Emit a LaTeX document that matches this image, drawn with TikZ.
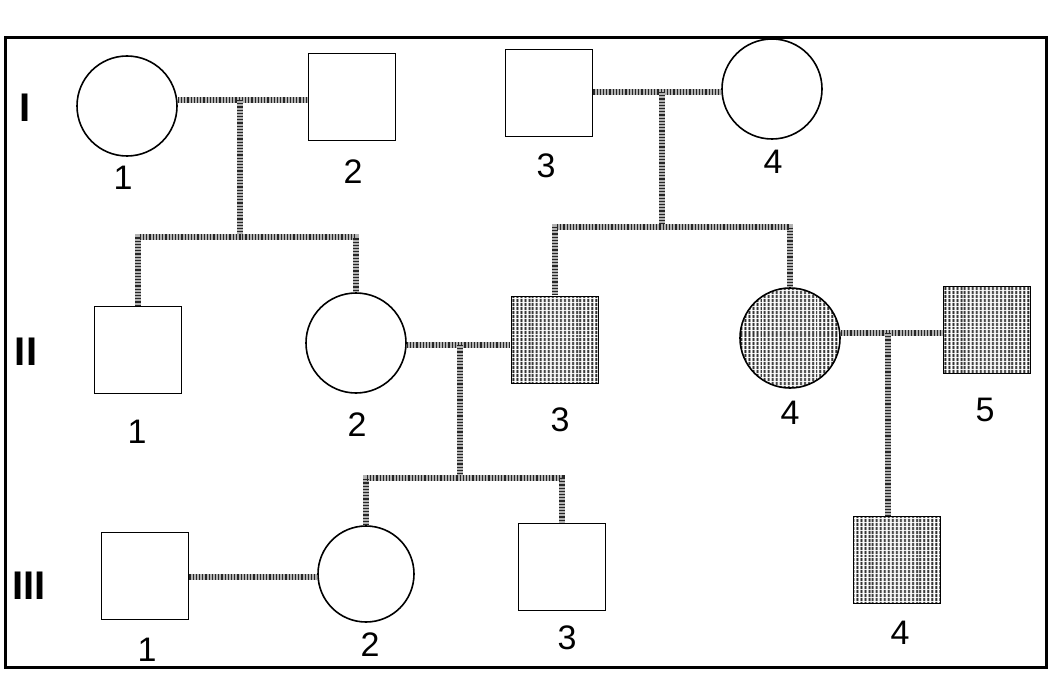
\documentclass[tikz,border=0pt]{standalone}
\usepackage{fontspec}
\setmainfont{Liberation Sans}
\usepackage{tikz}
\usetikzlibrary{patterns.meta}

\begin{document}
\begin{tikzpicture}[
  x=1pt, y=-1pt,
  male/.style={rectangle, draw, line width=1.6pt, minimum size=87pt, inner sep=0pt},
  female/.style={circle, draw, line width=1.6pt, minimum size=100pt, inner sep=0pt},
  aff/.style={pattern={Lines[angle=90, distance=4pt, line width=2.2pt]}, pattern color=black!85},
  rel/.style={draw=black!30, line width=6pt,
    postaction={draw=black!85, line width=6pt, dash pattern=on 1.2pt off 2pt}},
  num/.style={font=\fontsize{34}{40}\selectfont},
  gen/.style={font=\bfseries\fontsize{40}{44}\selectfont}
]
\useasboundingbox (0,0) rectangle (1051,679);
\draw[line width=3pt] (5,38) rectangle (1046,667);

% Generations
\node[gen] (gI)   at (25,108) {I};
\node[gen] (gII)  at (26,352) {II};
\node[gen] (gIII) at (29,586) {III};

% Generation I
\node[female] (I1) at (127,106) {};
\node[male]   (I2) at (352,97)  {};
\node[male]   (I3) at (549,93)  {};
\node[female] (I4) at (772,89)  {};

% Generation II
\node[male]        (II1) at (138,350) {};
\node[female]      (II2) at (356,343) {};
\node[male, aff]   (II3) at (555,340) {};
\node[female, aff] (II4) at (790,338) {};
\node[male, aff]   (II5) at (987,330) {};

% Generation III
\node[male]                      (III1) at (145,576) {};
\node[female, minimum size=96pt] (III2) at (366,574) {};
\node[male]                      (III3) at (562,567) {};
\node[male, aff]                 (III4) at (897,560) {};

% Numbers
\node[num] (nI1)   at (123,178) {1};
\node[num] (nI2)   at (353,172) {2};
\node[num] (nI3)   at (546,166) {3};
\node[num] (nI4)   at (773,162) {4};
\node[num] (nII1)  at (137,432) {1};
\node[num] (nII2)  at (357,425) {2};
\node[num] (nII3)  at (560,420) {3};
\node[num] (nII4)  at (790,413) {4};
\node[num] (nII5)  at (985,410) {5};
\node[num] (nIII1) at (147,650) {1};
\node[num] (nIII2) at (370,645) {2};
\node[num] (nIII3) at (567,638) {3};
\node[num] (nIII4) at (900,633) {4};

% Matings and sibships
\coordinate (m1) at (240,100);
\coordinate (s1) at (240,237);
\coordinate (m2) at (662,92);
\coordinate (s2) at (662,227);
\coordinate (m3) at (460,345);
\coordinate (s3) at (460,478);
\coordinate (m4) at (888,333);
\coordinate (m5) at (250,577);

\draw[rel] (m1 -| I1.east) -- (m1 -| I2.west);
\draw[rel] (m1) -- (s1);
\draw[rel] (II1.north) |- (s1) -| (II2.north);

\draw[rel] (m2 -| I3.east) -- (m2 -| I4.west);
\draw[rel] (m2) -- (s2);
\draw[rel] (II3.north) |- (s2) -| (II4.north);

\draw[rel] (m3 -| II2.east) -- (m3 -| II3.west);
\draw[rel] (m3) -- (s3);
\draw[rel] (III2.north) |- (s3) -| (III3.north);

\draw[rel] (m4 -| II4.east) -- (m4 -| II5.west);
\draw[rel] (m4) -- (m4 |- III4.north);

\draw[rel] (m5 -| III1.east) -- (m5 -| III2.west);
\end{tikzpicture}
\end{document}
